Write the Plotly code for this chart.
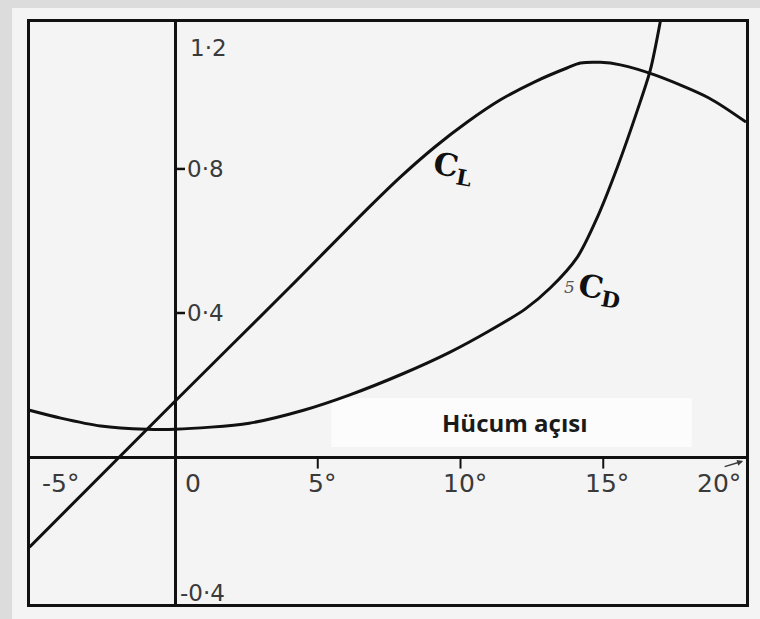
import plotly.graph_objects as go

# angle of attack (deg) and coefficients
alpha_cl = [-5.1, 0.0, 4.0, 6.8, 7.9, 9.1, 10.25, 11.4, 12.6, 13.75, 14.2,
            14.9, 15.6, 16.8, 18.7, 20.0]
cl = [-0.25, 0.155, 0.47, 0.694, 0.778, 0.861, 0.931, 0.992, 1.042, 1.081, 1.094,
      1.096, 1.089, 1.061, 0.997, 0.93]

alpha_cd = [-5.1, -4.0, -2.6, -1.0, 0.0, 2.6, 4.5, 6.1, 8.0, 9.6, 11.0,
            12.25, 13.15, 14.1, 14.8, 15.5, 16.2, 16.65, 17.0]
cd5 = [0.13, 0.108, 0.086, 0.077, 0.077, 0.094, 0.13, 0.172, 0.232, 0.29, 0.35,
       0.41, 0.47, 0.556, 0.667, 0.806, 0.964, 1.075, 1.21]

x_ticks = [-5, 0, 5, 10, 15, 20]
x_tick_text = ["-5°", "0", "5°", "10°", "15°", "20°"]
y_ticks = [1.2, 0.8, 0.4, -0.4]
y_tick_text = ["1·2", "0·8", "0·4", "-0·4"]

x_range = [-5.08, 20.0]
y_range = [-0.408, 1.208]

ink = "#111111"
label_grey = "#3a3a3a"

fig = go.Figure()

# "Hücum açısı" panel behind the curves
fig.add_shape(type="rect", x0=5.48, x1=18.1, y0=0.028, y1=0.164,
              fillcolor="#fcfcfc", line=dict(width=0), layer="below")

for xs, ys, name in [(alpha_cl, cl, "CL"), (alpha_cd, cd5, "5 CD")]:
    fig.add_trace(go.Scatter(
        x=xs, y=ys, mode="lines", name=name,
        line=dict(color=ink, width=3, shape="spline", smoothing=0.8),
        hoverinfo="skip", showlegend=False,
    ))

# small tick marks on the axes
for v in y_ticks:
    if 0 < v < 1.0:
        fig.add_shape(type="line", x0=0, x1=0.35, y0=v, y1=v,
                      line=dict(color=ink, width=2.5))
for v in x_ticks:
    if 0 < v < 20:
        fig.add_shape(type="line", x0=v, x1=v, y0=0, y1=-0.032,
                      line=dict(color=ink, width=2))

tick_font = dict(family="DejaVu Sans, Liberation Sans, sans-serif", color=label_grey)

for v, t in zip(x_ticks, x_tick_text):
    if v == x_ticks[0] or v == 0:
        anchor, shift = "left", 8
    elif v == x_ticks[-1]:
        anchor, shift = "right", -3
    else:
        anchor, shift = "center", 4
    fig.add_annotation(x=v, y=0, text=t, showarrow=False, xanchor=anchor,
                       yanchor="top", xshift=shift, yshift=-10,
                       font=dict(size=25, **tick_font))

for v, t in zip(y_ticks, y_tick_text):
    if v == max(y_ticks):
        ya, ys, xs = "top", -8, 13
    elif v == min(y_ticks):
        ya, ys, xs = "bottom", -7, 3
    else:
        ya, ys, xs = "middle", 0, 10
    fig.add_annotation(x=0, y=v, text=t, showarrow=False, xanchor="left",
                       yanchor=ya, xshift=xs, yshift=ys,
                       font=dict(size=23, **tick_font))

# arrow at the end of the angle axis
fig.add_annotation(x=19.9, y=0.0, ax=-20, ay=6, text="", showarrow=True,
                   arrowhead=2, arrowsize=0.8, arrowwidth=1.5, arrowcolor=label_grey,
                   yshift=-4)

# curve labels
fig.add_annotation(x=9.75, y=0.80, text="<b>C<sub>L</sub></b>", showarrow=False,
                   textangle=10,
                   font=dict(family="DejaVu Serif, serif", size=31, color=ink))
fig.add_annotation(x=13.8, y=0.472, text="<i>5</i>", showarrow=False,
                   font=dict(family="DejaVu Serif, serif", size=17, color="#555555"))
fig.add_annotation(x=14.9, y=0.462, text="<b>C<sub>D</sub></b>", showarrow=False,
                   textangle=10,
                   font=dict(family="DejaVu Serif, serif", size=31, color=ink))

fig.add_annotation(x=11.88, y=0.097, text="<b>Hücum açısı</b>", showarrow=False,
                   font=dict(family="Open Sans, sans-serif", size=24, color="#1a1a1a"))

# grey strips of the scan edge (outside the frame)
fig.add_shape(type="rect", xref="paper", yref="paper", x0=-0.05, x1=1.02,
              y0=1.024, y1=1.05, fillcolor="#dcdcdc", line=dict(width=0))
fig.add_shape(type="rect", xref="paper", yref="paper", x0=-0.05, x1=-0.025,
              y0=-0.05, y1=1.05, fillcolor="#dcdcdc", line=dict(width=0))

fig.update_xaxes(range=x_range, showgrid=False, showticklabels=False, ticks="",
                 zeroline=True, zerolinecolor=ink, zerolinewidth=2.5,
                 showline=True, linecolor=ink, linewidth=3, mirror=True)
fig.update_yaxes(range=y_range, showgrid=False, showticklabels=False, ticks="",
                 zeroline=True, zerolinecolor=ink, zerolinewidth=2.5,
                 showline=True, linecolor=ink, linewidth=3, mirror=True)

fig.update_layout(
    width=760, height=619,
    margin=dict(l=30, r=11, t=22, b=15),
    plot_bgcolor="#f4f4f4",
    paper_bgcolor="#f4f4f4",
    showlegend=False,
)

fig.write_html("out.html", config={"displayModeBar": False},
               post_script="document.body.style.margin='0px';")
